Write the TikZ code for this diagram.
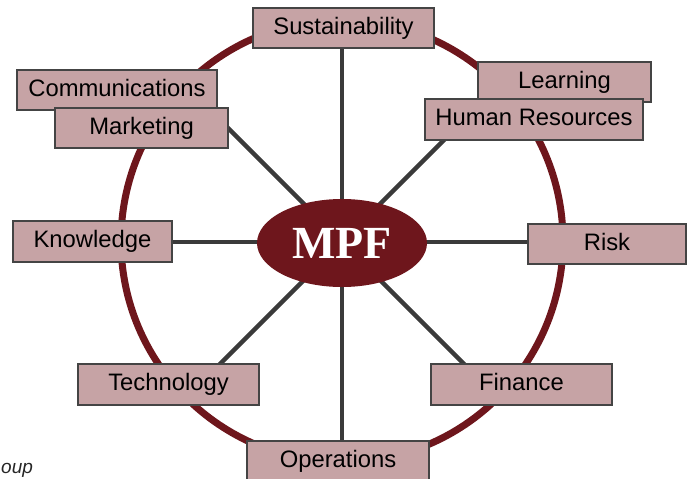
\documentclass[tikz,border=0pt]{standalone}
\usepackage{fontspec}
\setmainfont{Liberation Sans}
\newfontfamily\mpffont{Liberation Serif}
\usetikzlibrary{calc,shapes.geometric}
\definecolor{ringred}{HTML}{6E161C}
\definecolor{boxfill}{HTML}{C6A3A5}
\definecolor{boxline}{HTML}{444444}
\definecolor{spokegray}{HTML}{3A3A3A}
\begin{document}
\begin{tikzpicture}[x=1pt,y=-1pt,
  lbox/.style={draw=boxline, line width=1.2pt, fill=boxfill, inner sep=0pt,
    minimum height=40pt, text height=17pt, text depth=5pt,
    font=\fontsize{23.8}{26}\selectfont, anchor=center},
  spokeline/.style={draw=spokegray, line width=4.5pt},
  ring/.style={draw=ringred, line width=7pt}]
\clip (0,0) rectangle (688,479);
% ring
\node[ring, circle, minimum size=442pt, inner sep=0pt] (ringc) at (342,241) {};
% centre coordinate and spoke ends
\coordinate (c) at (342,242);
\coordinate (eUL) at (217,117);
\coordinate (eUR) at (462,122);
\coordinate (eLL) at (202,382);
\coordinate (eLR) at (482,382);
% boxes (positions)
\path
  (343.5,28) coordinate (psus)
  (117,90) coordinate (pcom)
  (141.5,128) coordinate (pmar)
  (564.5,82) coordinate (plea)
  (534,119.5) coordinate (phr)
  (92.5,241.5) coordinate (pkno)
  (607,244) coordinate (prisk)
  (168.5,384.5) coordinate (ptec)
  (521.5,384.5) coordinate (pfin)
  (338,461) coordinate (pops);
% spokes
\draw[spokeline] (c) -- (c |- psus);
\draw[spokeline] (c) -- (c |- pops);
\draw[spokeline] (c) -- (c -| pkno);
\draw[spokeline] (c) -- (c -| prisk);
\draw[spokeline] (c) -- (eUL);
\draw[spokeline] (c) -- (eUR);
\draw[spokeline] (c) -- (eLL);
\draw[spokeline] (c) -- (eLR);
% boxes
\node[lbox, minimum width=181pt] (sus) at (psus) {Sustainability};
\node[lbox, minimum width=200pt] (com) at (pcom) {Communications};
\node[lbox, minimum width=173pt] (mar) at (pmar) {Marketing};
\node[lbox, minimum width=173pt] (lea) at (plea) {Learning};
\node[lbox, minimum width=218pt, minimum height=41pt] (hr) at (phr) {Human Resources};
\node[lbox, minimum width=159pt, minimum height=41pt] (kno) at (pkno) {Knowledge};
\node[lbox, minimum width=158pt] (risk) at (prisk) {Risk};
\node[lbox, minimum width=181pt, minimum height=41pt] (tec) at (ptec) {Technology};
\node[lbox, minimum width=181pt, minimum height=41pt] (fin) at (pfin) {Finance};
\node[lbox, minimum width=182pt] (ops) at (pops) {Operations};
% centre ellipse
\node[ellipse, fill=ringred, minimum width=170pt, minimum height=88pt, inner sep=0pt,
  text=white, font=\mpffont\bfseries\fontsize{46}{46}\selectfont] (mpf) at (342,243) {MPF};
% partial caption
\node[anchor=base west, inner sep=0pt, text=black!85,
  font=\itshape\fontsize{19}{22}\selectfont] (cap) at (1,473) {oup};
\end{tikzpicture}
\end{document}
